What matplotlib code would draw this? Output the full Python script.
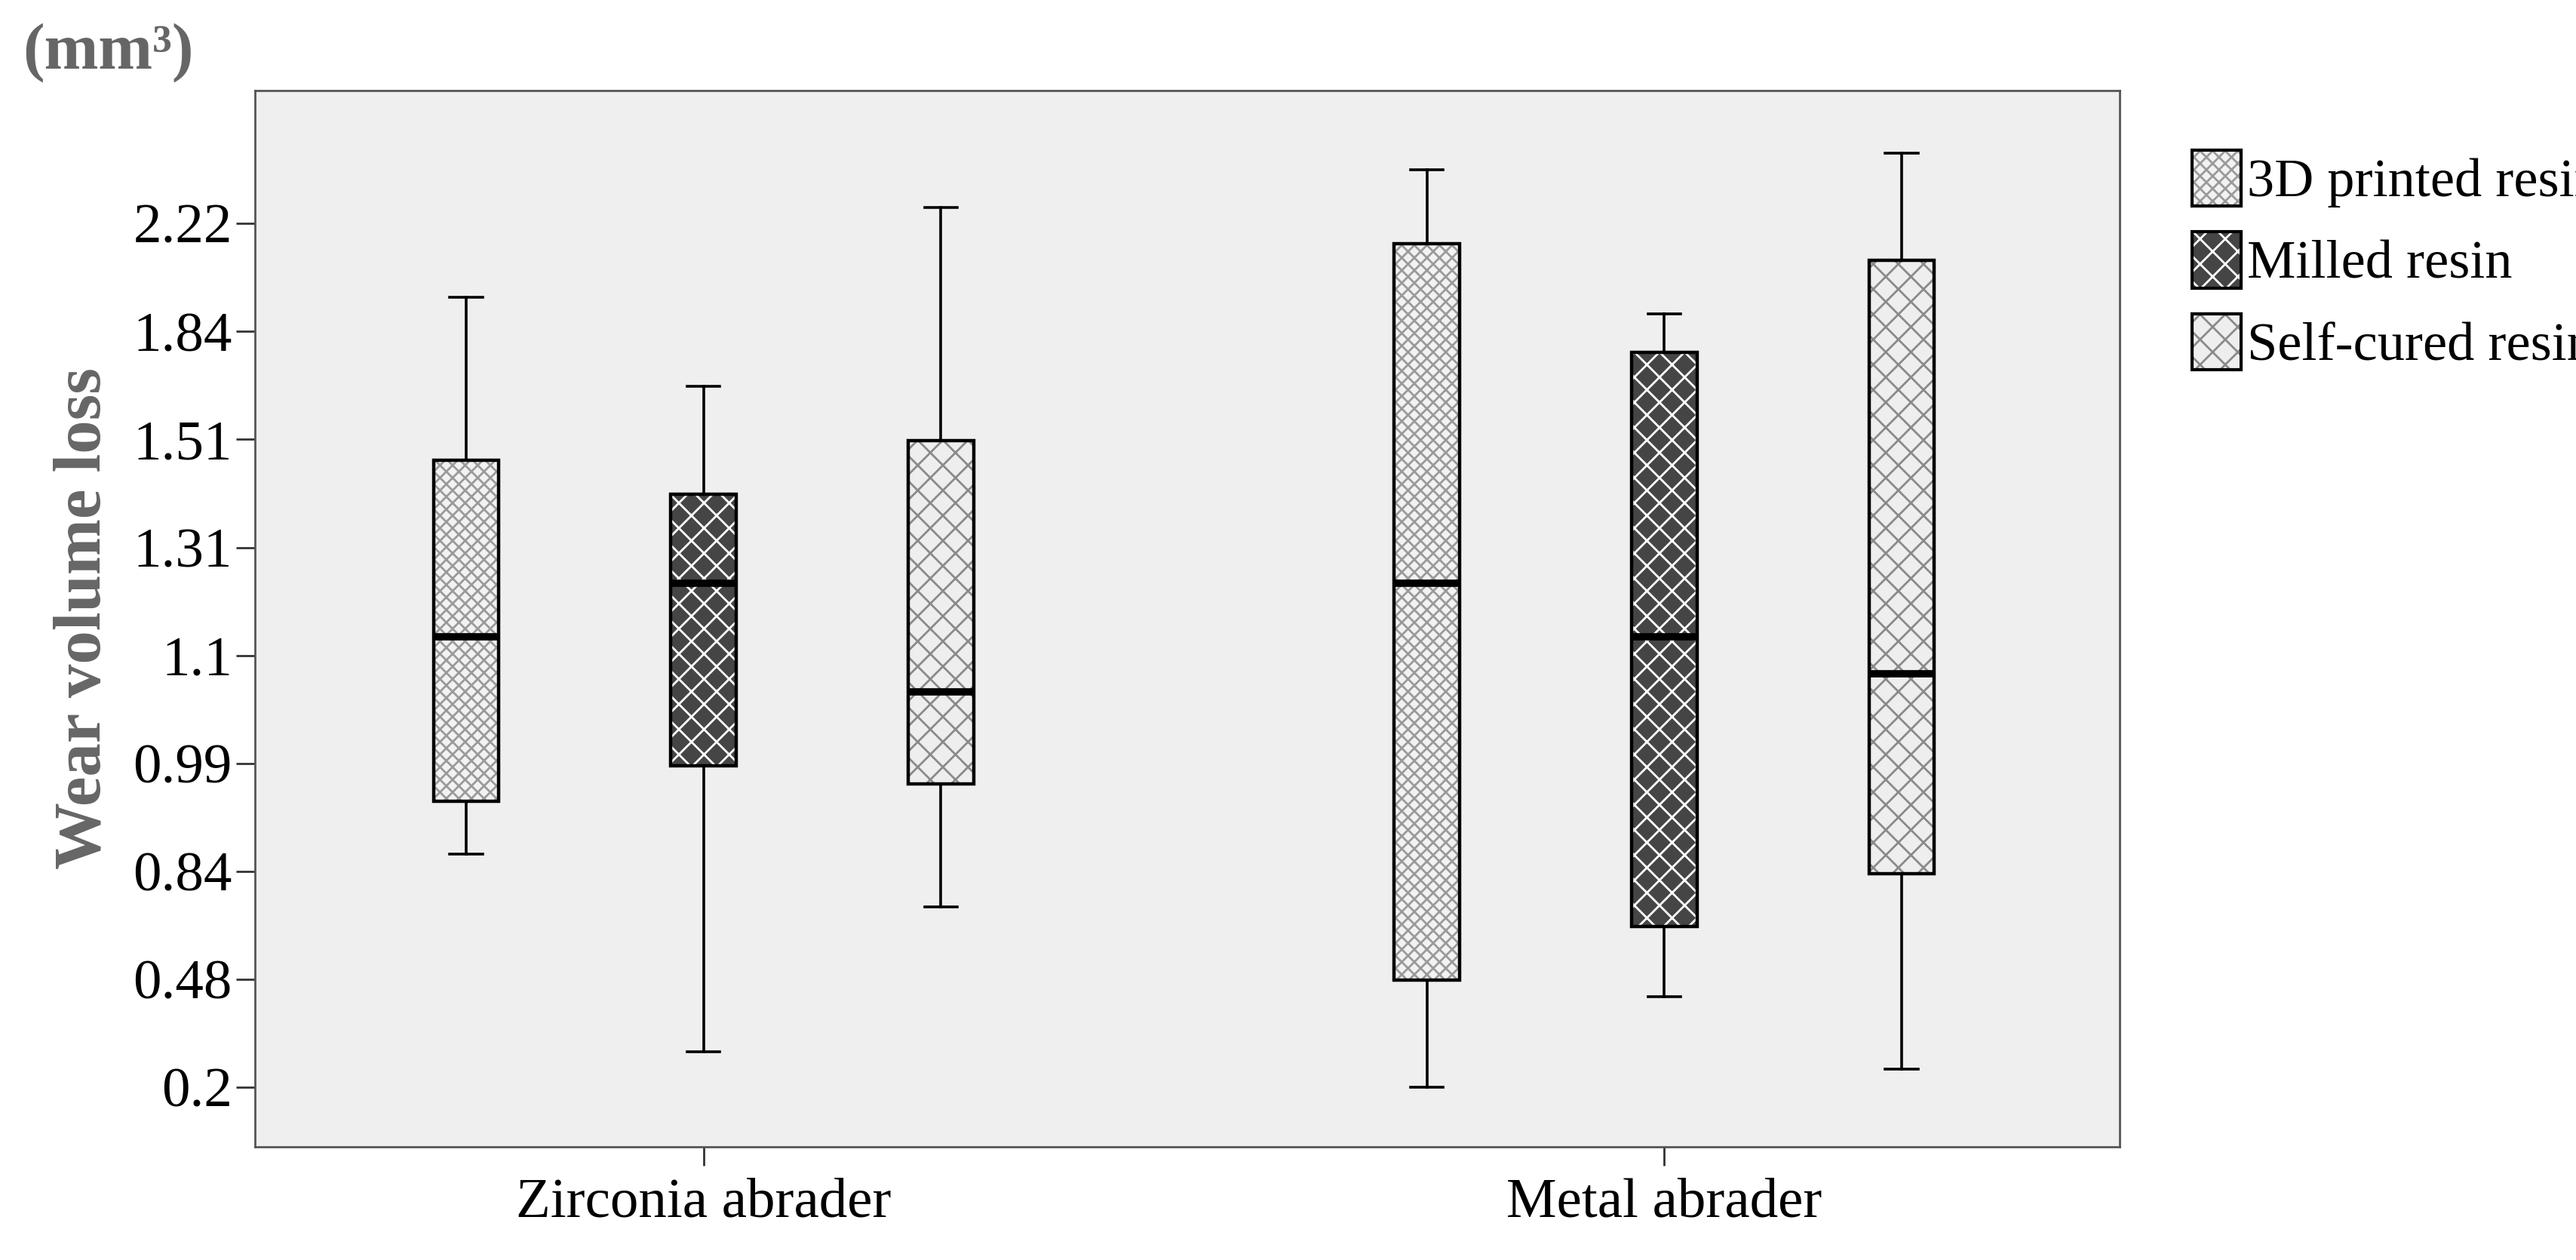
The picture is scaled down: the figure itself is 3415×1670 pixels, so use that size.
import matplotlib
matplotlib.use('Agg')
import matplotlib.pyplot as plt
from matplotlib.patches import Rectangle, Patch

plt.rcParams['font.family'] = ['Liberation Serif', 'DejaVu Serif']
plt.rcParams['hatch.linewidth'] = 2.0

# y axis is ordinal: evenly spaced tick labels, values given as tick-position index
tick_labels = ['0.2', '0.48', '0.84', '0.99', '1.1', '1.31', '1.51', '1.84', '2.22']
groups = ['Zirconia abrader', 'Metal abrader']
series = ['3D printed resin', 'Milled resin', 'Self-cured resin']
# per series: [zirconia, metal]
whislo = {'3D printed resin': [2.16, 0.00], 'Milled resin': [0.33, 0.84], 'Self-cured resin': [1.67, 0.17]}
q1 = {'3D printed resin': [2.65, 0.99], 'Milled resin': [2.98, 1.49], 'Self-cured resin': [2.81, 1.98]}
med = {'3D printed resin': [4.17, 4.67], 'Milled resin': [4.67, 4.17], 'Self-cured resin': [3.66, 3.83]}
q3 = {'3D printed resin': [5.81, 7.81], 'Milled resin': [5.49, 6.81], 'Self-cured resin': [5.99, 7.66]}
whishi = {'3D printed resin': [7.32, 8.50], 'Milled resin': [6.49, 7.16], 'Self-cured resin': [8.15, 8.65]}

face = {'3D printed resin': '#f2f2f2', 'Milled resin': '#454545', 'Self-cured resin': '#eeeeee'}
hatchc = {'3D printed resin': '#9a9a9a', 'Milled resin': '#ffffff', 'Self-cured resin': '#8a8a8a'}
hatch = {'3D printed resin': 'xx', 'Milled resin': 'x', 'Self-cured resin': 'x'}

offsets = [-0.247, 0.0, 0.247]
width = 0.068

fig = plt.figure(figsize=(34.15, 16.7), dpi=100)
ax = fig.add_axes([0.0989, 0.090, 0.724, 0.838])
ax.set_facecolor('#efefef')

handles = []
for si, s in enumerate(series):
    stats, pos = [], []
    for gi in range(len(groups)):
        stats.append(dict(whislo=whislo[s][gi], q1=q1[s][gi], med=med[s][gi],
                          q3=q3[s][gi], whishi=whishi[s][gi], fliers=[]))
        pos.append(gi + offsets[si])
    ax.bxp(stats, positions=pos, widths=width, showfliers=False, patch_artist=True,
           boxprops=dict(facecolor='none', edgecolor='none', linewidth=0),
           whiskerprops=dict(color='black', linewidth=2.6),
           capprops=dict(color='black', linewidth=2.6),
           medianprops=dict(color='black', linewidth=7, solid_capstyle='butt'),
           capwidths=width / 2, zorder=2)
    for gi in range(len(groups)):
        x0 = pos[gi] - width / 2
        h = q3[s][gi] - q1[s][gi]
        ax.add_patch(Rectangle((x0, q1[s][gi]), width, h, facecolor=face[s],
                               edgecolor=hatchc[s], hatch=hatch[s], linewidth=0, zorder=3))
        ax.add_patch(Rectangle((x0, q1[s][gi]), width, h, fill=False,
                               edgecolor='black', linewidth=3.2, zorder=4))
        ax.plot([x0, x0 + width], [med[s][gi]] * 2, color='black', lw=7,
                solid_capstyle='butt', zorder=5)
    hp = Patch(facecolor=face[s], edgecolor=hatchc[s], hatch=hatch[s], linewidth=0)
    op = Patch(fill=False, edgecolor='black', linewidth=3)
    handles.append((hp, op))

ax.set_xlim(-0.467, 1.474)
ax.set_ylim(-0.55, 9.23)
ax.set_yticks(range(len(tick_labels)))
ax.set_yticklabels(tick_labels)
ax.set_xticks(range(len(groups)))
ax.set_xticklabels(groups)
ax.tick_params(axis='both', labelsize=54, length=18, width=2, color='#333333')
ax.tick_params(axis='x', pad=12)
for sp in ax.spines.values():
    sp.set_color('#555555')
    sp.set_linewidth(2)
ax.set_ylabel('Wear volume loss', fontsize=64, fontweight='bold', color='#666666', labelpad=18)
fig.text(0.009, 0.958, '(mm³)', fontsize=62, fontweight='bold', color='#666666', va='center')

fig.legend(handles, series, loc='upper left', bbox_to_anchor=(0.832, 0.92), frameon=False,
           fontsize=52, handlelength=0.9, handleheight=1.2, handletextpad=0.1, labelspacing=0.45)

fig.savefig('out.png', dpi=100)
